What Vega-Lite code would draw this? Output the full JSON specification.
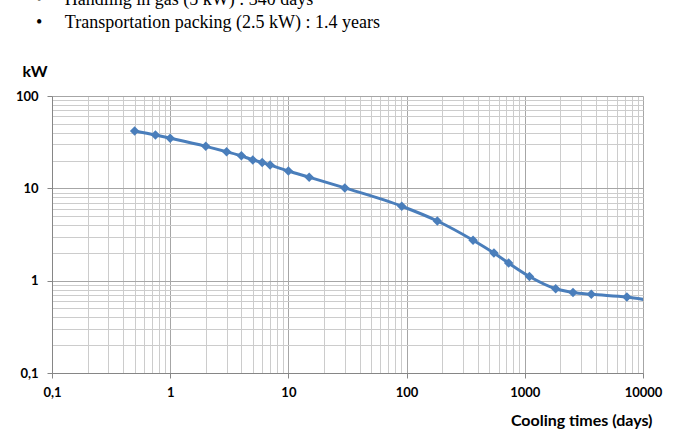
{
  "$schema": "https://vega.github.io/schema/vega-lite/v6.json",
  "width": 591,
  "height": 277,
  "autosize": {"type": "none"},
  "padding": {"left": 52, "top": 96, "right": 39, "bottom": 61},
  "background": "white",
  "config": {"view": {"stroke": null}},
  "title": {
    "text": ["•\u00a0\u00a0\u00a0\u00a0\u00a0Handling in gas (5 kW) : 340 days", "•\u00a0\u00a0\u00a0\u00a0\u00a0Transportation packing (2.5 kW) : 1.4 years"],
    "font": "Liberation Serif",
    "fontSize": 18,
    "fontWeight": "normal",
    "color": "#000000",
    "anchor": "start",
    "frame": "group",
    "lineHeight": 23,
    "dx": -16,
    "offset": 31
  },
  "data": {
    "values": [
      {"days": 0.5, "kW": 41.8},
      {"days": 0.75, "kW": 37.8},
      {"days": 1, "kW": 34.9},
      {"days": 2, "kW": 28.5},
      {"days": 3, "kW": 24.9},
      {"days": 4, "kW": 22.5},
      {"days": 5, "kW": 20.3},
      {"days": 6, "kW": 19.1},
      {"days": 7, "kW": 17.9},
      {"days": 10, "kW": 15.4},
      {"days": 15, "kW": 13.2},
      {"days": 30, "kW": 10.1},
      {"days": 91, "kW": 6.4},
      {"days": 182, "kW": 4.43},
      {"days": 365, "kW": 2.74},
      {"days": 548, "kW": 1.99},
      {"days": 730, "kW": 1.55},
      {"days": 1095, "kW": 1.11},
      {"days": 1826, "kW": 0.817},
      {"days": 2557, "kW": 0.746},
      {"days": 3652, "kW": 0.711},
      {"days": 7305, "kW": 0.664},
      {"days": 10958, "kW": 0.616}
    ]
  },
  "encoding": {
    "x": {
      "field": "days",
      "type": "quantitative",
      "scale": {"type": "log", "domain": [0.1, 10000], "nice": false},
      "axis": {
        "title": "Cooling times (days)",
        "titleFont": "Lato",
        "titleFontSize": 16,
        "titleFontWeight": "bold",
        "titleColor": "#000000",
        "titleAnchor": "end",
        "titleAlign": "right",
        "titleBaseline": "middle",
        "titleX": 600,
        "titleY": 47,
        "values": [0.1,0.2,0.3,0.4,0.5,0.6,0.7,0.8,0.9,1,2,3,4,5,6,7,8,9,10,20,30,40,50,60,70,80,90,100,200,300,400,500,600,700,800,900,1000,2000,3000,4000,5000,6000,7000,8000,9000,10000],
        "format": "~g",
        "labelExpr": "abs(log(datum.value)/LN10 - round(log(datum.value)/LN10)) < 0.001 ? replace(datum.label, '.', ',') : ''",
        "labelOverlap": false,
        "labelBound": false,
        "labelFlush": false,
        "labelFont": "Lato",
        "labelFontSize": 13,
        "labelFontWeight": "bold",
        "labelColor": "#000000",
        "labelPadding": 8,
        "tickSize": 5,
        "tickColor": "#868686",
        "tickOpacity": {"condition": {"test": "abs(log(datum.value)/LN10 - round(log(datum.value)/LN10)) < 0.001", "value": 1}, "value": 0},
        "domainColor": "#868686",
        "grid": true,
        "gridColor": {"condition": {"test": "abs(log(datum.value)/LN10 - round(log(datum.value)/LN10)) < 0.001", "value": "#a6a6a6"}, "value": "#cccccc"},
        "gridOpacity": 1
      }
    },
    "y": {
      "field": "kW",
      "type": "quantitative",
      "scale": {"type": "log", "domain": [0.1, 100], "nice": false},
      "axis": {
        "title": "kW",
        "titleFont": "Lato",
        "titleFontSize": 16,
        "titleFontWeight": "bold",
        "titleColor": "#000000",
        "titleAngle": 0,
        "titleAlign": "left",
        "titleBaseline": "middle",
        "titleX": -30,
        "titleY": -25,
        "values": [0.1,0.2,0.3,0.4,0.5,0.6,0.7,0.8,0.9,1,2,3,4,5,6,7,8,9,10,20,30,40,50,60,70,80,90,100],
        "format": "~g",
        "labelExpr": "abs(log(datum.value)/LN10 - round(log(datum.value)/LN10)) < 0.001 ? replace(datum.label, '.', ',') : ''",
        "labelOverlap": false,
        "labelBound": false,
        "labelFlush": false,
        "labelFont": "Lato",
        "labelFontSize": 13,
        "labelFontWeight": "bold",
        "labelColor": "#000000",
        "labelPadding": 9,
        "tickSize": 5,
        "tickColor": "#868686",
        "tickOpacity": {"condition": {"test": "abs(log(datum.value)/LN10 - round(log(datum.value)/LN10)) < 0.001", "value": 1}, "value": 0},
        "domainColor": "#868686",
        "grid": true,
        "gridColor": {"condition": {"test": "abs(log(datum.value)/LN10 - round(log(datum.value)/LN10)) < 0.001", "value": "#a6a6a6"}, "value": "#cccccc"},
        "gridOpacity": 1
      }
    }
  },
  "layer": [
    {
      "mark": {"type": "line", "color": "#4A7EBB", "strokeWidth": 3, "interpolate": "monotone", "clip": true}
    },
    {
      "transform": [{"filter": "datum.days <= 10000"}],
      "mark": {"type": "point", "shape": "diamond", "filled": true, "size": 90, "color": "#4A7EBB", "opacity": 1, "clip": true}
    }
  ]
}
